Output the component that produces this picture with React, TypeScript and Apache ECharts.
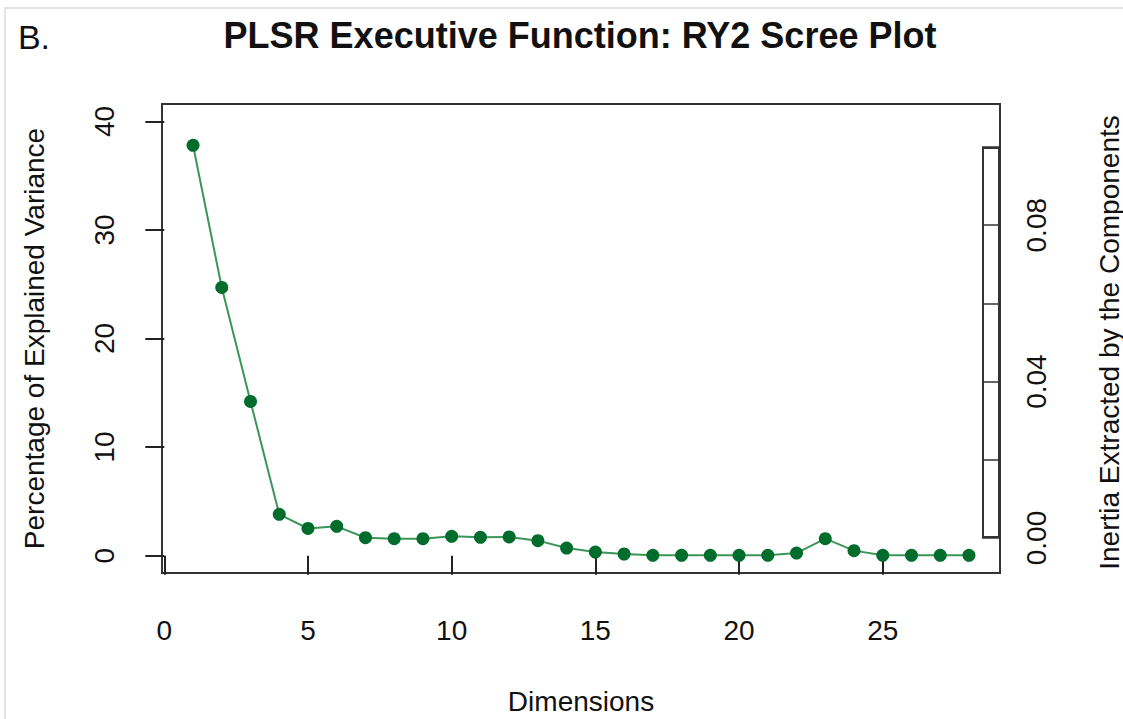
import React, { useEffect, useRef } from "react";
import * as echarts from "echarts";

const dimensions = [1, 2, 3, 4, 5, 6, 7, 8, 9, 10, 11, 12, 13, 14, 15, 16, 17, 18, 19, 20, 21, 22, 23, 24, 25, 26, 27, 28];
const explainedVariance = [37.8, 24.7, 14.2, 3.8, 2.5, 2.7, 1.65, 1.56, 1.56, 1.78, 1.69, 1.72, 1.38, 0.7, 0.33, 0.15, 0.03, 0.03, 0.03, 0.03, 0.03, 0.24, 1.56, 0.46, 0.03, 0.03, 0.03, 0.03];
const xTicks = [0, 5, 10, 15, 20, 25];
const yTicks = [0, 10, 20, 30, 40];
const inertiaCategory = ["Inertia"];
const inertiaTotal = [0.1];
const inertiaLabelTicks = [0, 0.04, 0.08];

const FONT = "'Liberation Sans', Arial, Helvetica, sans-serif";
const AX = "#222";

export default function App() {
  const ref = useRef<HTMLDivElement>(null);
  useEffect(() => {
    document.body.style.margin = "0";
    const chart = echarts.init(ref.current!, null, { renderer: "svg" });
    const points = dimensions.map((d, i) => [d, explainedVariance[i]]);
    chart.setOption({
      animation: false,
      backgroundColor: "#fff",
      textStyle: { fontFamily: FONT },
      grid: [
        { left: 162, top: 104, right: 123, bottom: 146, show: true, borderColor: "#333", borderWidth: 2, backgroundColor: "transparent", outerBoundsMode: "none", containLabel: false },
        { left: 982, top: 147, right: 123, bottom: 181, show: false, outerBoundsMode: "none", containLabel: false },
      ],
      xAxis: [
        {
          type: "value",
          gridIndex: 0,
          min: -0.08,
          max: 29.08,
          axisLine: { show: false },
          splitLine: { show: false },
          axisTick: { show: true, customValues: xTicks, length: 19, lineStyle: { color: AX, width: 2 } },
          axisLabel: { customValues: xTicks, color: "#111", fontSize: 28, margin: 43, fontFamily: FONT },
          name: "Dimensions",
          nameLocation: "middle",
          nameGap: 114,
          nameTextStyle: { color: "#111", fontSize: 28, fontFamily: FONT },
        },
        {
          type: "category",
          gridIndex: 1,
          data: inertiaCategory,
          show: false,
        },
      ],
      yAxis: [
        {
          type: "value",
          gridIndex: 0,
          min: -1.6,
          max: 41.6,
          axisLine: { show: false },
          splitLine: { show: false },
          axisTick: { show: true, customValues: yTicks, length: 19, lineStyle: { color: AX, width: 2 } },
          axisLabel: { customValues: yTicks, rotate: 90, color: "#111", fontSize: 28, margin: 44, fontFamily: FONT },
          name: "Percentage of Explained Variance",
          nameLocation: "middle",
          nameRotate: 90,
          nameGap: 114,
          nameTextStyle: { color: "#111", fontSize: 28, fontFamily: FONT },
        },
        {
          type: "value",
          gridIndex: 1,
          position: "right",
          min: 0,
          max: 0.1,
          interval: 0.02,
          axisLine: { show: false },
          axisTick: { show: false },
          splitLine: { show: true, lineStyle: { color: "#333", width: 1.5 } },
          axisLabel: {
            customValues: inertiaLabelTicks,
            rotate: 90,
            color: "#111",
            fontSize: 28,
            margin: 22,
            fontFamily: FONT,
            formatter: (v: number) => v.toFixed(2),
          },
          name: "Inertia Extracted by the Components",
          nameLocation: "middle",
          nameRotate: 90,
          nameGap: 95,
          nameTextStyle: { color: "#111", fontSize: 28, fontFamily: FONT },
        },
      ],
      series: [
        {
          type: "line",
          xAxisIndex: 0,
          yAxisIndex: 0,
          data: points,
          symbol: "circle",
          symbolSize: 13,
          lineStyle: { color: "#3b9658", width: 2 },
          itemStyle: { color: "#006d2c" },
          z: 5,
        },
        {
          type: "bar",
          xAxisIndex: 1,
          yAxisIndex: 1,
          data: inertiaTotal,
          barWidth: 18,
          itemStyle: { color: "rgba(0,0,0,0)", borderColor: "#333", borderWidth: 2 },
        },
      ],
      graphic: [
        { type: "rect", shape: { x: 5, y: 8, width: 1130, height: 720 }, style: { fill: "none", stroke: "#e3e3e3", lineWidth: 2 }, silent: true },
        { type: "text", x: 34, y: 37, style: { text: "B.", font: `34px ${FONT}`, fill: "#111", align: "center", verticalAlign: "middle" } },
        { type: "text", x: 580, y: 35, style: { text: "PLSR Executive Function: RY2 Scree Plot", font: `bold 36px ${FONT}`, fill: "#111", align: "center", verticalAlign: "middle" } },
      ],
    });
    return () => chart.dispose();
  }, []);
  return <div ref={ref} style={{ width: 1123, height: 719 }} />;
}
